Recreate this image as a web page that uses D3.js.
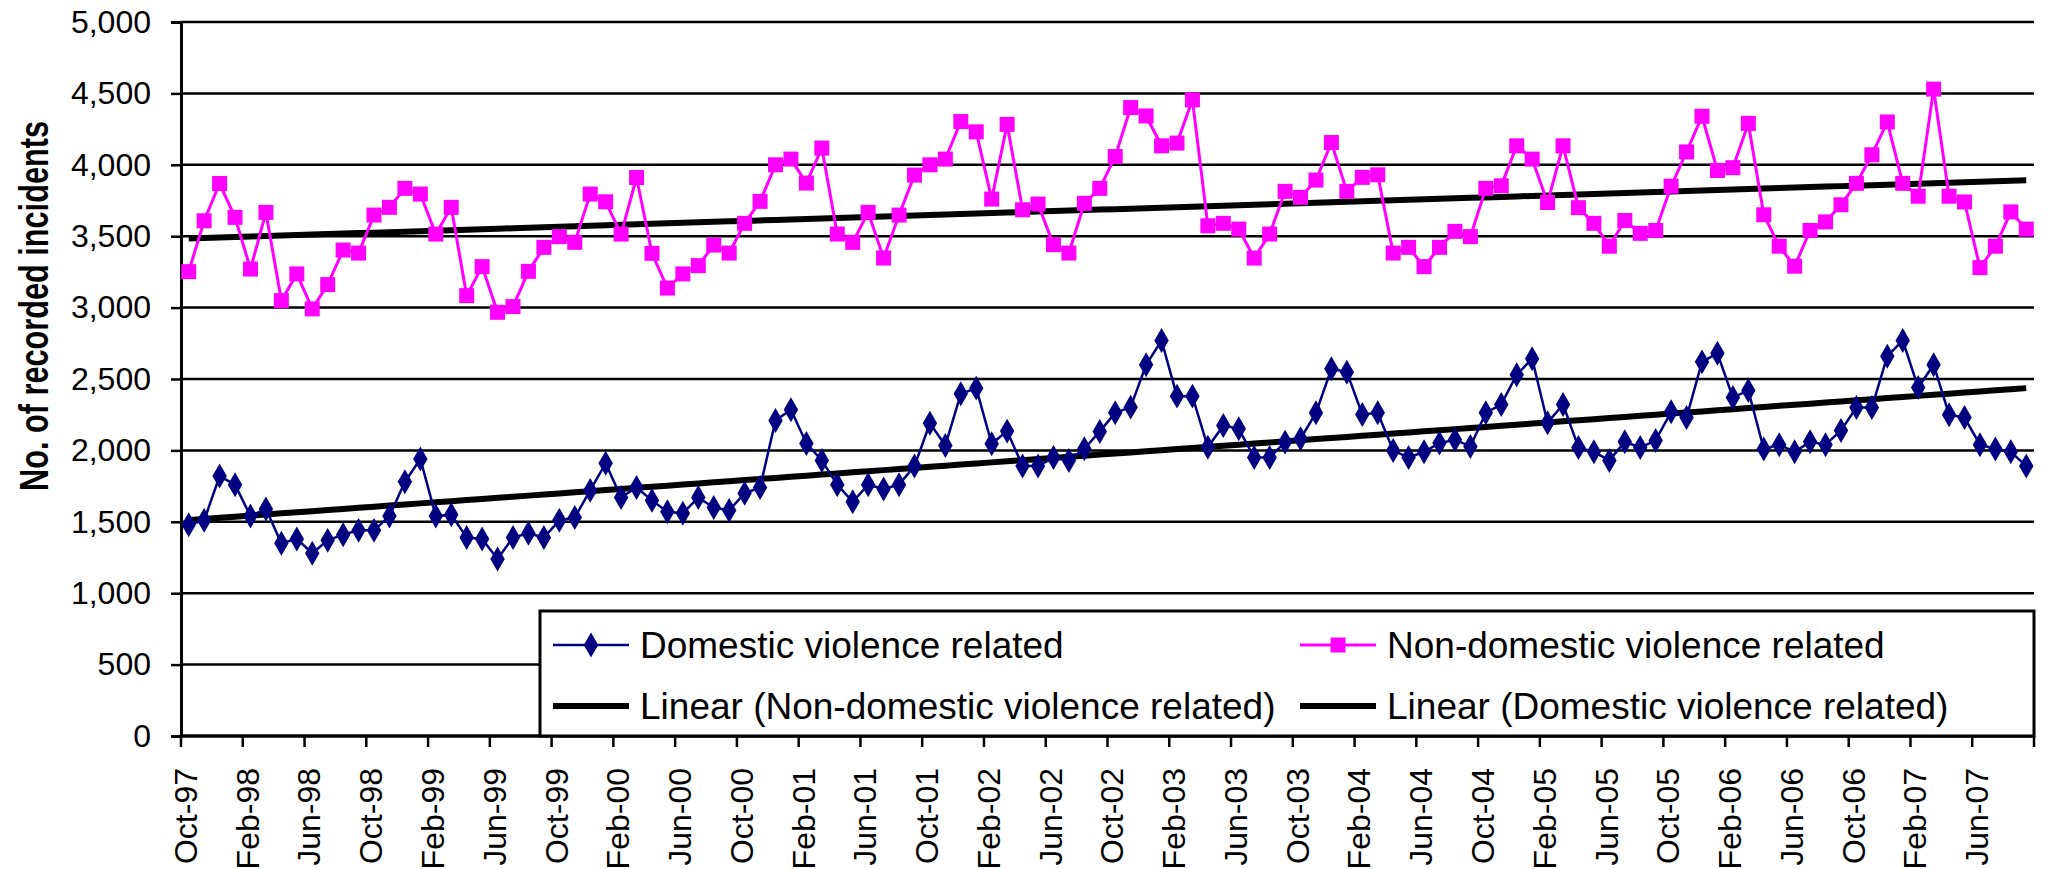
<!DOCTYPE html>
<html>
<head>
<meta charset="utf-8">
<script src="https://cdn.jsdelivr.net/npm/d3@7"></script>
<style>
  body { margin: 0; background: #fff; }
  text { font-family: "Liberation Sans", Arial, sans-serif; fill: #000; }
</style>
</head>
<body>
<svg id="chart" width="2057" height="869"></svg>
<script>
// monthly counts, Oct-97 .. Sep-07
const domestic = [
  1480, 1510, 1820, 1760, 1540, 1590, 1350, 1380, 1280, 1370, 1410, 1440,
  1440, 1540, 1780, 1940, 1540, 1550, 1390, 1380, 1240, 1390, 1420, 1390,
  1510, 1530, 1720, 1910, 1670, 1740, 1650, 1570, 1560, 1670, 1600, 1580,
  1700, 1740, 2210, 2285, 2049, 1930, 1760, 1640, 1760, 1730, 1760, 1890,
  2190, 2035, 2396, 2436, 2046, 2135, 1890, 1890, 1950, 1930, 2011, 2133,
  2263, 2303, 2600, 2770, 2380, 2380, 2022, 2175, 2151, 1950, 1950, 2058,
  2082, 2263, 2572, 2548, 2252, 2263, 2000, 1950, 1990, 2051, 2075, 2028,
  2263, 2322, 2530, 2642, 2193, 2322, 2020, 1990, 1930, 2060, 2020, 2070,
  2270, 2230, 2620, 2680, 2370, 2420, 2010, 2040, 1990, 2060, 2040, 2140,
  2300, 2300, 2660, 2770, 2440, 2600, 2250, 2230, 2040, 2010, 1990, 1890
];
const nonDomestic = [
  3252, 3608, 3869, 3632, 3270, 3667, 3049, 3236, 2991, 3161, 3403, 3382,
  3648, 3702, 3835, 3795, 3515, 3702, 3084, 3287, 2967, 3007, 3254, 3422,
  3497, 3457, 3795, 3741, 3515, 3911, 3380, 3137, 3236, 3294, 3438, 3382,
  3590, 3744, 4000, 4040, 3872, 4117, 3515, 3457, 3667, 3347, 3648, 3928,
  4000, 4040, 4303, 4231, 3760, 4283, 3685, 3725, 3441, 3382, 3730, 3835,
  4058, 4401, 4342, 4133, 4152, 4455, 3573, 3590, 3550, 3347, 3515, 3814,
  3772, 3893, 4156, 3814, 3912, 3930, 3382, 3422, 3287, 3422, 3534, 3497,
  3835, 3853, 4133, 4040, 3736, 4133, 3700, 3590, 3430, 3610, 3520, 3540,
  3850, 4090, 4340, 3960, 3980, 4290, 3650, 3430, 3290, 3540, 3600, 3720,
  3870, 4070, 4300, 3870, 3780, 4530, 3780, 3740, 3280, 3430, 3670, 3550
];
const tickLabels = [
  "Oct-97", "Feb-98", "Jun-98", "Oct-98", "Feb-99", "Jun-99", "Oct-99", "Feb-00",
  "Jun-00", "Oct-00", "Feb-01", "Jun-01", "Oct-01", "Feb-02", "Jun-02", "Oct-02",
  "Feb-03", "Jun-03", "Oct-03", "Feb-04", "Jun-04", "Oct-04", "Feb-05", "Jun-05",
  "Oct-05", "Feb-06", "Jun-06", "Oct-06", "Feb-07", "Jun-07"
];
const yTicks = [0, 500, 1000, 1500, 2000, 2500, 3000, 3500, 4000, 4500, 5000];
const labelEvery = 4;

const svg = d3.select("#chart");
const plotLeft = 181, plotRight = 2034, plotTop = 22, plotBottom = 736;

const idx = d3.range(domestic.length);
const x = d3.scaleBand().domain(idx).range([plotLeft, plotRight]).paddingInner(0).paddingOuter(0);
const cx = (i) => x(i) + x.bandwidth() / 2;
const y = d3.scaleLinear().domain([0, 5000]).range([plotBottom, plotTop]);

// least squares trend, like Excel's linear trendline
function linearFit(vals) {
  const mx = d3.mean(idx), my = d3.mean(vals);
  let sxy = 0, sxx = 0;
  vals.forEach((v, i) => { sxy += (i - mx) * (v - my); sxx += (i - mx) * (i - mx); });
  const b = sxy / sxx, a = my - b * mx;
  return idx.map((i) => a + b * i);
}

// gridlines
svg.append("g")
  .selectAll("line")
  .data(yTicks.filter((t) => t > 0))
  .join("line")
  .attr("x1", plotLeft).attr("x2", plotRight)
  .attr("y1", (t) => y(t)).attr("y2", (t) => y(t))
  .attr("stroke", "#000").attr("stroke-width", 2.5);

// y axis
const yAxis = svg.append("g")
  .attr("transform", `translate(${plotLeft},0)`)
  .call(d3.axisLeft(y).tickValues(yTicks).tickSize(10).tickPadding(20).tickFormat(d3.format(",")));
yAxis.select(".domain").attr("stroke", "#000").attr("stroke-width", 3);
yAxis.selectAll(".tick line").attr("stroke", "#000").attr("stroke-width", 2.5);
yAxis.selectAll(".tick text")
  .attr("font-family", "Liberation Sans, Arial, sans-serif")
  .attr("font-size", 32).attr("fill", "#000");

svg.append("text")
  .attr("transform", "translate(48,306) rotate(-90)")
  .attr("text-anchor", "middle")
  .attr("font-size", 40)
  .attr("font-weight", "bold")
  .attr("textLength", 370)
  .attr("lengthAdjust", "spacingAndGlyphs")
  .text("No. of recorded incidents");

// x axis
const tickIdx = idx.filter((i) => i % labelEvery === 0);
const xg = svg.append("g");
xg.append("line")
  .attr("x1", plotLeft).attr("x2", plotRight)
  .attr("y1", plotBottom).attr("y2", plotBottom)
  .attr("stroke", "#000").attr("stroke-width", 3.5);
xg.selectAll(".xt")
  .data(tickIdx.map((i) => x(i)).concat([plotRight]))
  .join("line")
  .attr("class", "xt")
  .attr("x1", (d) => d).attr("x2", (d) => d)
  .attr("y1", plotBottom).attr("y2", plotBottom + 11)
  .attr("stroke", "#000").attr("stroke-width", 2.5);
xg.selectAll(".xl")
  .data(tickIdx)
  .join("text")
  .attr("class", "xl")
  .attr("transform", (i) => `translate(${cx(i) - 3},768) rotate(-90)`)
  .attr("text-anchor", "end")
  .attr("dy", "0.35em")
  .attr("font-size", 32)
  .text((i, k) => tickLabels[k]);

// trend lines
const line = d3.line().x((d, i) => cx(i)).y((d) => y(d));
[nonDomestic, domestic].forEach((vals) => {
  svg.append("path")
    .datum(linearFit(vals))
    .attr("d", line)
    .attr("fill", "none")
    .attr("stroke", "#000")
    .attr("stroke-width", 6);
});

// series
const diamond = d3.symbol().type(d3.symbolDiamond).size(180);
svg.append("path")
  .datum(domestic)
  .attr("d", line)
  .attr("fill", "none").attr("stroke", "#000080").attr("stroke-width", 2.5);
svg.append("g").selectAll("path")
  .data(domestic)
  .join("path")
  .attr("transform", (d, i) => `translate(${cx(i)},${y(d)})`)
  .attr("d", diamond)
  .attr("fill", "#000080");

svg.append("path")
  .datum(nonDomestic)
  .attr("d", line)
  .attr("fill", "none").attr("stroke", "#FF00FF").attr("stroke-width", 3);
svg.append("g").selectAll("rect")
  .data(nonDomestic)
  .join("rect")
  .attr("x", (d, i) => cx(i) - 7.5)
  .attr("y", (d) => y(d) - 7.5)
  .attr("width", 15).attr("height", 15)
  .attr("fill", "#FF00FF");

// legend
const legend = svg.append("g");
legend.append("rect")
  .attr("x", 540).attr("y", 611)
  .attr("width", plotRight - 540).attr("height", plotBottom - 611)
  .attr("fill", "#fff").attr("stroke", "#000").attr("stroke-width", 3);

const legendItems = [
  { label: "Domestic violence related", col: 0, row: 0, kind: "diamond" },
  { label: "Non-domestic violence related", col: 1, row: 0, kind: "square" },
  { label: "Linear (Non-domestic violence related)", col: 0, row: 1, kind: "trend" },
  { label: "Linear (Domestic violence related)", col: 1, row: 1, kind: "trend" }
];
const colX = [553, 1300], rowY = [645, 706];
legendItems.forEach((item) => {
  const lx = colX[item.col], ly = rowY[item.row];
  const g = legend.append("g");
  const stroke = item.kind === "diamond" ? "#000080" : item.kind === "square" ? "#FF00FF" : "#000";
  g.append("line")
    .attr("x1", lx).attr("x2", lx + 76)
    .attr("y1", ly).attr("y2", ly)
    .attr("stroke", stroke)
    .attr("stroke-width", item.kind === "trend" ? 6 : item.kind === "square" ? 3 : 2.5);
  if (item.kind === "diamond") {
    g.append("path").attr("transform", `translate(${lx + 38},${ly})`).attr("d", diamond).attr("fill", "#000080");
  } else if (item.kind === "square") {
    g.append("rect").attr("x", lx + 38 - 7.5).attr("y", ly - 7.5).attr("width", 15).attr("height", 15).attr("fill", "#FF00FF");
  }
  g.append("text")
    .attr("x", lx + 87).attr("y", ly)
    .attr("dy", "0.36em")
    .attr("font-size", 37)
    .text(item.label);
});
</script>
</body>
</html>
